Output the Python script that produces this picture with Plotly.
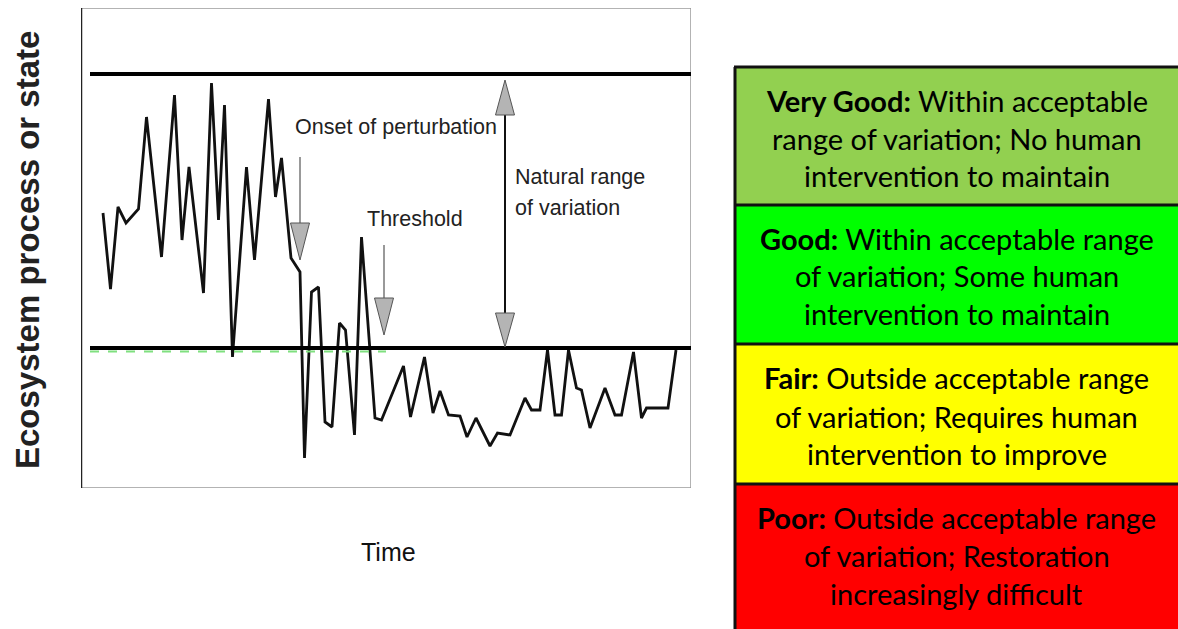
import plotly.graph_objects as go

W, H = 1178, 629

# ---- data (time, ecosystem state in arbitrary units) ----
time = [22, 29.5, 37, 45, 57.5, 65.5, 80.5, 93.5, 101, 108, 122.5, 130.5, 137.5, 143.5,
        151.5, 165.5, 173.5, 187.5, 194.5, 200.5, 210, 216, 219, 223.5, 230.5, 237.5,
        244, 251, 258.5, 264.5, 273.5, 280.5, 294, 300.5, 322.5, 329.5, 343.5, 352,
        359, 367.5, 379, 386, 395, 409, 416.5, 429, 444, 450.5, 459, 466.5, 474,
        480.5, 487.5, 495.5, 500.5, 509, 524, 534, 540.5, 552.5, 560.5, 565.5, 587, 595]
state = [275, 199, 281, 265, 279, 371, 231, 393, 248, 321, 195, 405, 268, 383,
         131, 321, 228, 389, 291, 330, 230, 220, 216, 30, 196, 201,
         66, 61, 165, 158, 53, 251, 70, 68, 122, 71, 131, 75,
         97, 73, 72, 51, 70, 42, 55, 53, 90, 78, 78, 138, 73,
         73, 138, 100, 98, 60, 100, 73, 73, 136, 70, 80, 80, 138]

upper_limit = 414
lower_limit = 140

x_label = "Time"
y_label = "Ecosystem process or state"

box_lines = [
    ["<b>Very Good:</b> Within acceptable", "range of variation; No human", "intervention to maintain"],
    ["<b>Good:</b> Within acceptable range", "of variation; Some human", "intervention to maintain"],
    ["<b>Fair:</b> Outside acceptable range", "of variation; Requires human", "intervention to improve"],
    ["<b>Poor:</b> Outside acceptable range", "of variation; Restoration", "increasingly difficult"],
]
box_colors = ["#92D050", "#00FF00", "#FFFF00", "#FF0000"]

# ---- layout helpers (pixel -> paper) ----
def px(x):
    return x / W

def py(y):
    return (H - y) / H

fig = go.Figure()

fig.add_trace(go.Scatter(x=time, y=state, mode="lines",
                         line=dict(color="#111111", width=2.8), hoverinfo="skip",
                         showlegend=False))

shapes = []
# plot frame
shapes.append(dict(type="rect", xref="x", yref="y", x0=0, x1=610, y0=0, y1=480,
                   line=dict(color="#9a9a9a", width=1.5)))
shapes.append(dict(type="line", xref="x", yref="y", x0=0, x1=0, y0=0, y1=480,
                   line=dict(color="#222222", width=2.5)))
# faint green dashes under the lower limit
shapes.append(dict(type="line", xref="x", yref="y", x0=9, x1=305, y0=lower_limit - 3.5,
                   y1=lower_limit - 3.5, line=dict(color="#7fe07f", width=2, dash="dash")))
# limits
for v in (upper_limit, lower_limit):
    shapes.append(dict(type="line", xref="x", yref="y", x0=9, x1=610, y0=v, y1=v,
                       line=dict(color="#000000", width=4)))

def tri(xc, ybase, ytip, half=9.5):
    return dict(type="path", xref="x", yref="y",
                path=f"M {xc-half},{ybase} L {xc+half},{ybase} L {xc},{ytip} Z",
                fillcolor="#b4b4b4", line=dict(color="#555555", width=1))

# onset arrow
shapes.append(dict(type="line", xref="x", yref="y", x0=219, x1=219, y0=331, y1=265,
                   line=dict(color="#777777", width=1.5)))
shapes.append(tri(219, 265, 228))
# threshold arrow
shapes.append(dict(type="line", xref="x", yref="y", x0=303, x1=303, y0=243, y1=190,
                   line=dict(color="#777777", width=1.5)))
shapes.append(tri(303, 190, 153))
# natural range double arrow
shapes.append(dict(type="line", xref="x", yref="y", x0=424, x1=424, y0=373, y1=175,
                   line=dict(color="#111111", width=2)))
shapes.append(tri(424, 373, 408))
shapes.append(tri(424, 175, 141))

# right-hand condition boxes (fills, then borders: left + horizontal rules only)
edges = [67, 205, 344, 484, 640]
for i, c in enumerate(box_colors):
    shapes.append(dict(type="rect", xref="paper", yref="paper", x0=px(735), x1=1.05,
                       y0=py(edges[i + 1]), y1=py(edges[i]), fillcolor=c,
                       line=dict(width=0), layer="below"))
for e in edges[:4]:
    shapes.append(dict(type="line", xref="paper", yref="paper", x0=px(734), x1=1.05,
                       y0=py(e), y1=py(e), line=dict(color="#111111", width=3)))
shapes.append(dict(type="line", xref="paper", yref="paper", x0=px(735), x1=px(735),
                   y0=py(edges[0]), y1=0, line=dict(color="#111111", width=3)))

annotations = []
narrow = "Liberation Sans Narrow, Arial Narrow, Liberation Sans, Arial"

def ann(**kw):
    base = dict(showarrow=False, xanchor="center", yanchor="middle")
    base.update(kw)
    annotations.append(base)

ann(xref="x", yref="y", x=314.5, y=361, text="Onset of perturbation",
    font=dict(family=narrow, size=21.5, color="#222222"))
ann(xref="x", yref="y", x=334, y=269, text="Threshold",
    font=dict(family=narrow, size=21.5, color="#222222"))
ann(xref="x", yref="y", x=432, y=311, text="Natural range", xanchor="left",
    font=dict(family=narrow, size=21.5, color="#222222"))
ann(xref="x", yref="y", x=432, y=280, text="of variation", xanchor="left",
    font=dict(family=narrow, size=21.5, color="#222222"))
ann(xref="paper", yref="paper", x=px(388), y=py(552), text=x_label,
    font=dict(family=narrow, size=25, color="#111111"))
ann(xref="paper", yref="paper", x=px(28), y=py(250), text=f"<b>{y_label}</b>",
    textangle=-90, font=dict(family="Liberation Sans, Arial", size=33, color="#222222"))

line_y = [[100, 138, 175], [238, 275, 313], [378, 416, 453], [517, 555, 593]]
for lines, ys in zip(box_lines, line_y):
    for t, yy in zip(lines, ys):
        ann(xref="paper", yref="paper", x=px(957), y=py(yy), text=t,
            font=dict(family="Lato, Noto Sans, sans-serif", size=29, color="#000000"))

fig.update_layout(
    width=W, height=H,
    margin=dict(l=0, r=0, t=0, b=0),
    paper_bgcolor="white", plot_bgcolor="white",
    xaxis=dict(domain=[px(81), px(691)], range=[0, 610], visible=False, fixedrange=True),
    yaxis=dict(domain=[py(488), py(8)], range=[0, 480], visible=False, fixedrange=True),
    shapes=shapes, annotations=annotations, showlegend=False,
)

fig.write_html("out.html", config={"displayModeBar": False},
               post_script="document.body.style.margin='0px';document.body.style.overflow='hidden';")
